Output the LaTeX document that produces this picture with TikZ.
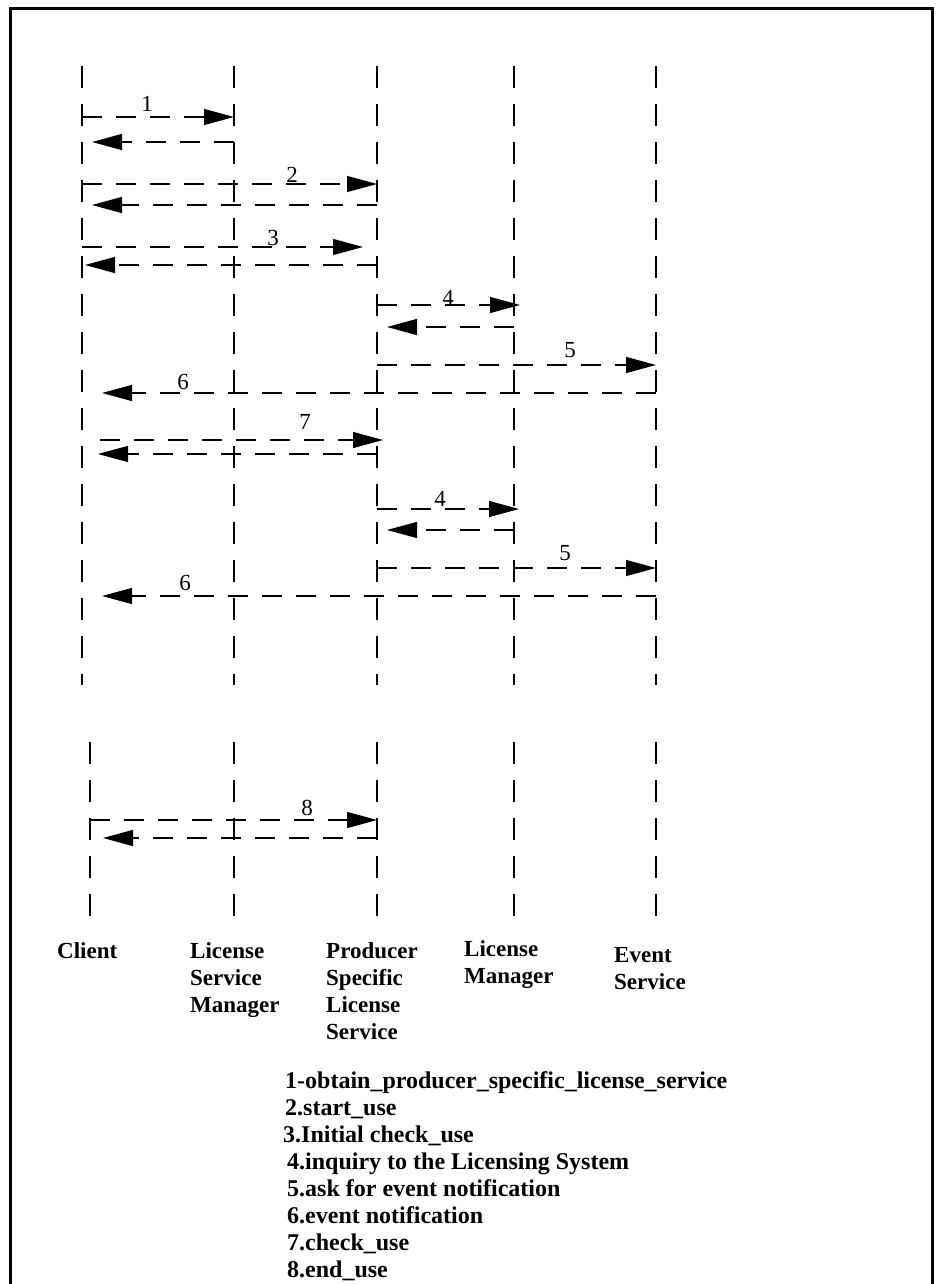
\documentclass[tikz,border=0pt]{standalone}
\usepackage{fontspec}
\setmainfont{Liberation Serif}
\usetikzlibrary{arrows.meta}
\begin{document}
\begin{tikzpicture}[x=1pt,y=-1pt,
  lifeline/.style={line width=1.3pt, dash pattern=on 22pt off 16pt},
  msg/.style={line width=1.3pt, dash pattern=on 20pt off 14pt, -{Triangle[length=30pt,width=16pt]}},
  lbl/.style={inner sep=0pt, font=\fontsize{23}{24}\selectfont},
  head/.style={inner sep=0pt, anchor=north west, align=left, font=\fontsize{23}{27}\selectfont\bfseries},
]
\useasboundingbox (0,0) rectangle (936,1284);
\draw[line width=3pt] (10.5,1290) -- (10.5,9) -- (932.5,9) -- (932.5,1290);

% lifeline x positions
\coordinate (C) at (82,0);
\coordinate (L) at (234,0);
\coordinate (P) at (377,0);
\coordinate (M) at (514,0);
\coordinate (E) at (656,0);
\coordinate (C2) at (90,0);

% upper lifelines
\foreach \n in {C,L,P,M,E} {
  \draw[lifeline] (\n |- 0,66) -- (\n |- 0,685);
}
% lower lifelines
\foreach \n in {C2,L,P,M,E} {
  \draw[lifeline] (\n |- 0,742) -- (\n |- 0,930);
}

% 1
\draw[msg] (C |- 0,117) -- (L |- 0,117);
\node[lbl] (n1) at (147,104) {1};
\draw[msg, shorten >=10pt] (L |- 0,142) -- (C |- 0,142);
% 2
\draw[msg] (C |- 0,184) -- (P |- 0,184);
\node[lbl] (n2) at (292,175) {2};
\draw[msg, shorten >=10pt] (P |- 0,205) -- (C |- 0,205);
% 3
\draw[msg, shorten >=14pt] (C |- 0,247) -- (P |- 0,247);
\node[lbl] (n3) at (273,238) {3};
\draw[msg, shorten >=3pt] (P |- 0,265) -- (C |- 0,265);
% 4
\draw[msg, shorten >=-6pt] (P |- 0,305) -- (M |- 0,305);
\node[lbl] (n4) at (448,298) {4};
\draw[msg, shorten >=10pt] (M |- 0,327) -- (P |- 0,327);
% 5
\draw[msg] (P |- 0,365) -- (E |- 0,365);
\node[lbl] (n5) at (570,350) {5};
% 6
\draw[msg, shorten >=20pt] (E |- 0,393) -- (C |- 0,393);
\node[lbl] (n6) at (183,382) {6};
% 7
\draw[msg, shorten <=18pt, shorten >=-6pt] (C |- 0,440) -- (P |- 0,440);
\node[lbl] (n7) at (305,422) {7};
\draw[msg, shorten >=16pt] (P |- 0,454) -- (C |- 0,454);
% 4 again
\draw[msg, shorten >=-5pt] (P |- 0,509) -- (M |- 0,509);
\node[lbl] (n4b) at (440,499) {4};
\draw[msg, shorten >=10pt] (M |- 0,530) -- (P |- 0,530);
% 5 again
\draw[msg] (P |- 0,568) -- (E |- 0,568);
\node[lbl] (n5b) at (565,553) {5};
% 6 again
\draw[msg, shorten >=20pt] (E |- 0,596) -- (C |- 0,596);
\node[lbl] (n6b) at (185,583) {6};
% 8
\draw[msg] (C2 |- 0,820) -- (P |- 0,820);
\node[lbl] (n8) at (307,808) {8};
\draw[msg, shorten >=13pt] (P |- 0,838) -- (C2 |- 0,838);

% headings
\node[head] (hC) at (57,942) {Client};
\node[head] (hL) at (190,942) {License\\Service\\Manager};
\node[head] (hP) at (326,942) {Producer\\Specific\\License\\Service};
\node[head] (hM) at (464,940) {License\\Manager};
\node[head] (hE) at (614,947) {Event\\Service};

% legend
\node[inner sep=0pt, anchor=north west, align=left, font=\fontsize{24}{27}\selectfont\bfseries] (legend) at (285,1071)
{1-obtain\_producer\_specific\_license\_service\\
2.start\_use\\
\hspace*{-2pt}3.Initial check\_use\\
\hspace*{2pt}4.inquiry to the Licensing System\\
\hspace*{2pt}5.ask for event notification\\
\hspace*{2pt}6.event notification\\
\hspace*{2pt}7.check\_use\\
\hspace*{2pt}8.end\_use};
\end{tikzpicture}
\end{document}
